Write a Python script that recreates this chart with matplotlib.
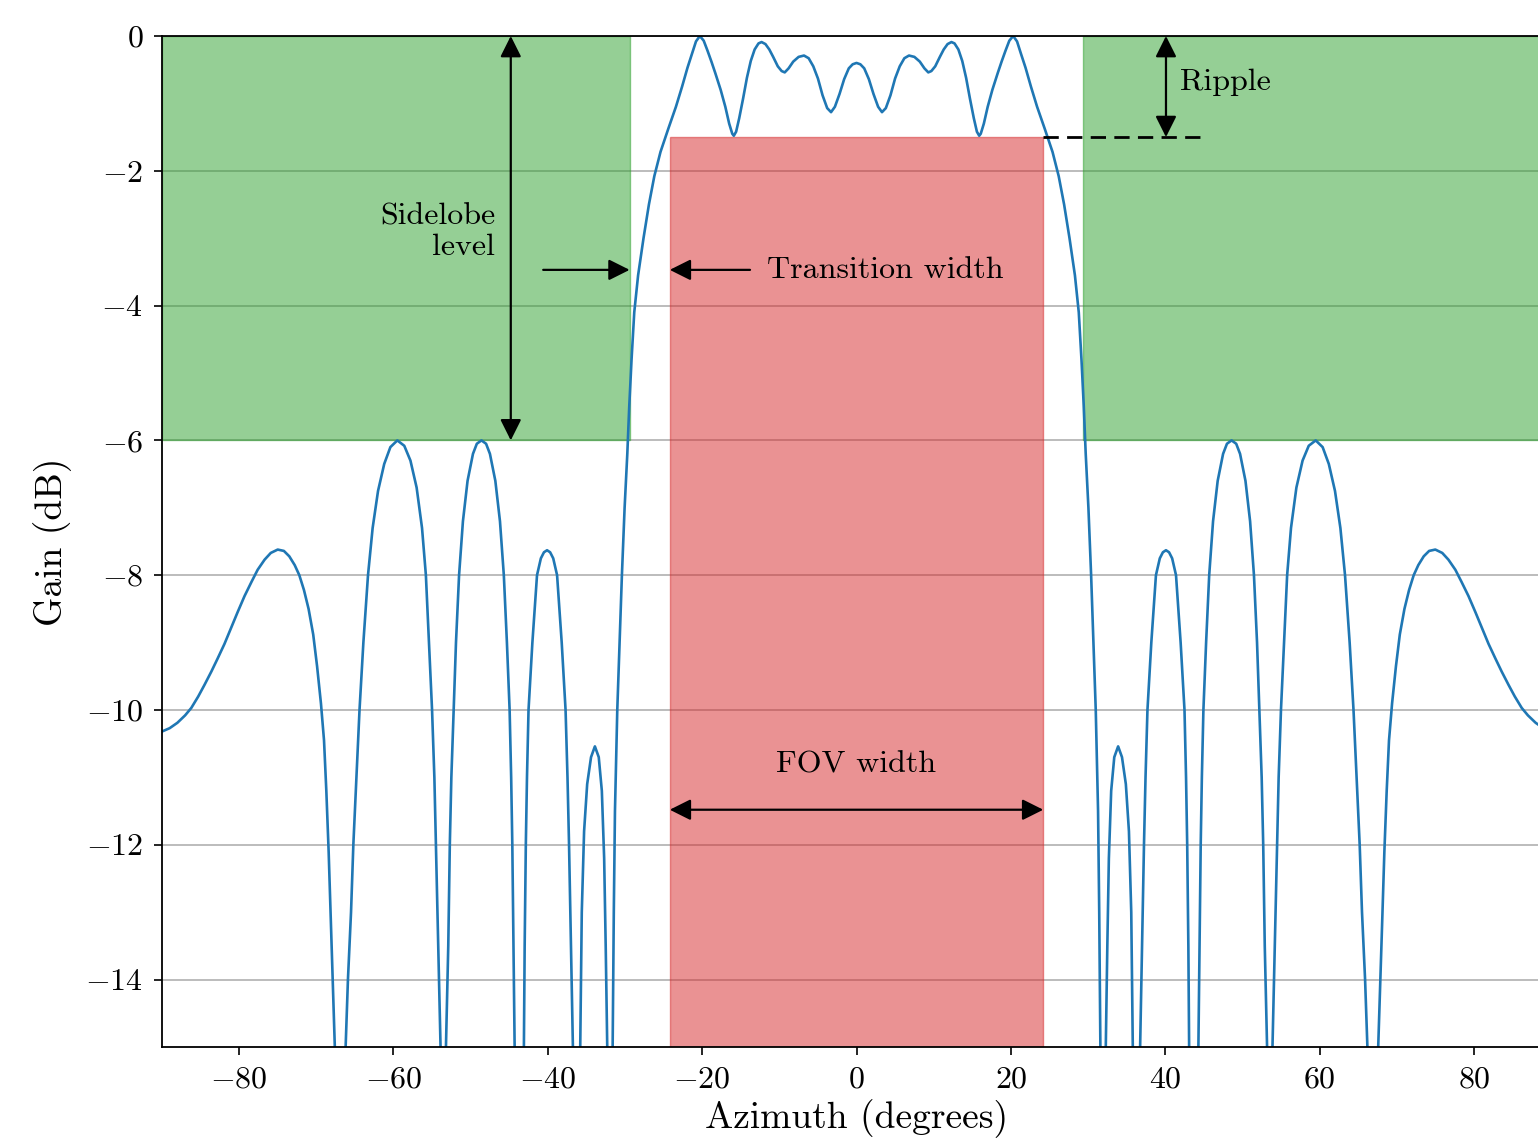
import numpy as np
import matplotlib.pyplot as plt
from matplotlib.patches import Rectangle

plt.rcParams['font.family'] = 'serif'
plt.rcParams['font.serif'] = ['cmr10']
plt.rcParams['mathtext.fontset'] = 'cm'
plt.rcParams['axes.formatter.use_mathtext'] = True

# beam pattern, left half (azimuth in degrees, gain in dB); the pattern is symmetric
az_half = [-90.0, -89.0, -88.0, -87.0, -86.2, -85.3, -84.5, -83.6, -82.8, -81.9,
           -81.1, -80.2, -79.3, -78.4, -77.6, -76.7, -75.9, -75.0, -74.2, -73.5,
           -72.8, -72.2, -71.6, -71.0, -70.4, -69.9, -69.4, -69.0, -68.7, -68.4,
           -68.1, -67.8, -67.6, -66.9, -66.2, -65.9, -65.5, -65.2, -64.8, -64.4,
           -63.9, -63.3, -62.7, -62.0, -61.2, -60.4, -59.5, -58.6, -57.8, -57.0,
           -56.3, -55.8, -55.4, -55.0, -54.7, -54.5, -54.2, -53.9, -53.6, -53.2,
           -52.9, -52.7, -52.5, -52.2, -51.9, -51.5, -51.0, -50.4, -49.7, -49.2,
           -48.6, -48.0, -47.5, -46.8, -46.2, -45.7, -45.3, -44.95, -44.75, -44.6,
           -44.45, -44.3, -43.7, -43.1, -43.0, -42.85, -42.7, -42.5, -42.0, -41.4,
           -40.9, -40.5, -40.1, -39.7, -39.3, -38.8, -38.2, -37.7, -37.45, -37.25,
           -37.0, -36.75, -36.2, -35.8, -35.6, -35.3, -34.9, -34.4, -33.9, -33.4,
           -33.0, -32.7, -32.5, -32.3, -31.9, -31.6, -31.45, -31.3, -31.0, -30.7,
           -30.4, -30.05, -29.7, -29.45, -29.15, -28.8, -28.3, -27.6, -26.9, -26.2,
           -25.4, -24.4, -23.4, -22.6, -21.9, -21.3, -20.8, -20.3, -19.8, -19.3,
           -18.8, -18.3, -17.6, -17.0, -16.5, -16.1, -15.9, -15.6, -15.2, -14.7,
           -14.2, -13.7, -13.2, -12.7, -12.3, -11.8, -11.3, -10.8, -10.2, -9.7,
           -9.3, -8.8, -8.2, -7.5, -6.8, -6.2, -5.6, -5.0, -4.4, -3.8,
           -3.3, -2.8, -2.2, -1.6, -1.0, -0.5, 0.0]
gain_half = [-10.32, -10.27, -10.19, -10.08, -9.97, -9.8, -9.63, -9.43, -9.24, -9.02,
             -8.8, -8.55, -8.31, -8.1, -7.92, -7.77, -7.67, -7.62, -7.64, -7.72,
             -7.85, -8.0, -8.22, -8.5, -8.88, -9.35, -9.9, -10.45, -11.2, -12.1,
             -13.2, -14.3, -15.0, -40.0, -15.0, -14.0, -13.0, -12.0, -11.0, -10.0,
             -9.0, -8.0, -7.3, -6.75, -6.35, -6.1, -6.0, -6.08, -6.3, -6.7,
             -7.3, -8.0, -9.0, -10.0, -11.0, -12.0, -13.5, -15.0, -40.0, -15.0,
             -13.5, -12.0, -11.0, -10.0, -9.0, -8.0, -7.2, -6.6, -6.2, -6.05,
             -6.0, -6.05, -6.2, -6.6, -7.2, -8.0, -9.0, -10.0, -11.0, -12.0,
             -13.5, -15.0, -40.0, -15.0, -13.5, -12.0, -11.0, -10.0, -9.0, -8.0,
             -7.75, -7.66, -7.63, -7.66, -7.75, -8.0, -9.0, -10.0, -11.0, -12.0,
             -13.5, -15.0, -40.0, -15.0, -13.0, -11.8, -11.1, -10.7, -10.54, -10.7,
             -11.2, -12.2, -13.5, -15.0, -40.0, -15.0, -13.0, -11.5, -10.0, -9.0,
             -8.0, -7.0, -6.2, -5.5, -4.8, -4.1, -3.55, -3.0, -2.5, -2.08,
             -1.72, -1.38, -1.05, -0.75, -0.47, -0.26, -0.08, 0.0, -0.07, -0.22,
             -0.38, -0.55, -0.8, -1.05, -1.3, -1.45, -1.48, -1.42, -1.22, -0.93,
             -0.62, -0.37, -0.2, -0.11, -0.09, -0.12, -0.2, -0.31, -0.45, -0.52,
             -0.54, -0.48, -0.38, -0.31, -0.29, -0.33, -0.45, -0.63, -0.88, -1.07,
             -1.13, -1.05, -0.86, -0.64, -0.48, -0.42, -0.4]

az_half = np.array(az_half)
gain_half = np.array(gain_half)
azimuth = np.concatenate([az_half, -az_half[-2::-1]])
gain = np.concatenate([gain_half, gain_half[-2::-1]])

# mask limits
sidelobe_level = -6.0
ripple_level = -1.5
stop_edge = 29.4
fov_edge = 24.2
fov_arrow_y = -11.48
transition_y = -3.47

fig = plt.figure(figsize=(15.38, 11.39), dpi=100)
ax = fig.add_axes([0.1053, 0.0808, 0.9032, 0.8876])

ax.plot(azimuth, gain, color='#1f77b4', lw=1.9, zorder=2)

# stop-band regions and field of view
ax.add_patch(Rectangle((-90, sidelobe_level), 90 - stop_edge, -sidelobe_level,
                       color='tab:green', alpha=0.5, zorder=1.5))
ax.add_patch(Rectangle((stop_edge, sidelobe_level), 90 - stop_edge, -sidelobe_level,
                       color='tab:green', alpha=0.5, zorder=1.5))
ax.add_patch(Rectangle((-fov_edge, -15), 2 * fov_edge, 15 + ripple_level,
                       color='tab:red', alpha=0.5, zorder=1.5))

arrow_both = dict(arrowstyle='<|-|>', color='k', lw=1.6, mutation_scale=32,
                  shrinkA=0, shrinkB=0)
arrow_one = dict(arrowstyle='-|>', color='k', lw=1.6, mutation_scale=32,
                 shrinkA=0, shrinkB=0)
fs = 23

# sidelobe level
ax.annotate('', xy=(-44.8, sidelobe_level), xytext=(-44.8, 0), arrowprops=arrow_both)
ax.text(-46.8, -2.91, 'Sidelobe\nlevel', ha='right', va='center',
        multialignment='right', fontsize=fs, linespacing=1.15)

# transition width
ax.annotate('', xy=(-stop_edge, transition_y), xytext=(-40.6, transition_y),
            arrowprops=arrow_one)
ax.annotate('', xy=(-fov_edge, transition_y), xytext=(-13.8, transition_y),
            arrowprops=arrow_one)
ax.text(-11.6, transition_y, 'Transition width', ha='left', va='center', fontsize=fs)

# ripple
ax.plot([fov_edge, 45.0], [ripple_level, ripple_level], color='k', lw=2,
        ls=(0, (5.5, 3)), zorder=3)
ax.annotate('', xy=(40.1, ripple_level), xytext=(40.1, 0), arrowprops=arrow_both)
ax.text(41.9, -0.68, 'Ripple', ha='left', va='center', fontsize=fs)

# field of view
ax.annotate('', xy=(fov_edge, fov_arrow_y), xytext=(-fov_edge, fov_arrow_y),
            arrowprops=arrow_both)
ax.text(0, -10.81, 'FOV width', ha='center', va='center', fontsize=fs)

ax.set_xlim(-90, 90)
ax.set_ylim(-15, 0)
ax.set_xticks(np.arange(-80, 81, 20))
ax.set_yticks(np.arange(-14, 1, 2))
ax.yaxis.grid(True, color='#b0b0b0', lw=1.2)
ax.set_axisbelow(True)
ax.tick_params(labelsize=23, length=6, width=1.2, pad=7.5)
for s in ax.spines.values():
    s.set_linewidth(1.3)

ax.set_xlabel('Azimuth (degrees)', fontsize=27, labelpad=4)
ax.set_ylabel('Gain (dB)', fontsize=27, labelpad=10)

fig.savefig('out.png', dpi=100)
